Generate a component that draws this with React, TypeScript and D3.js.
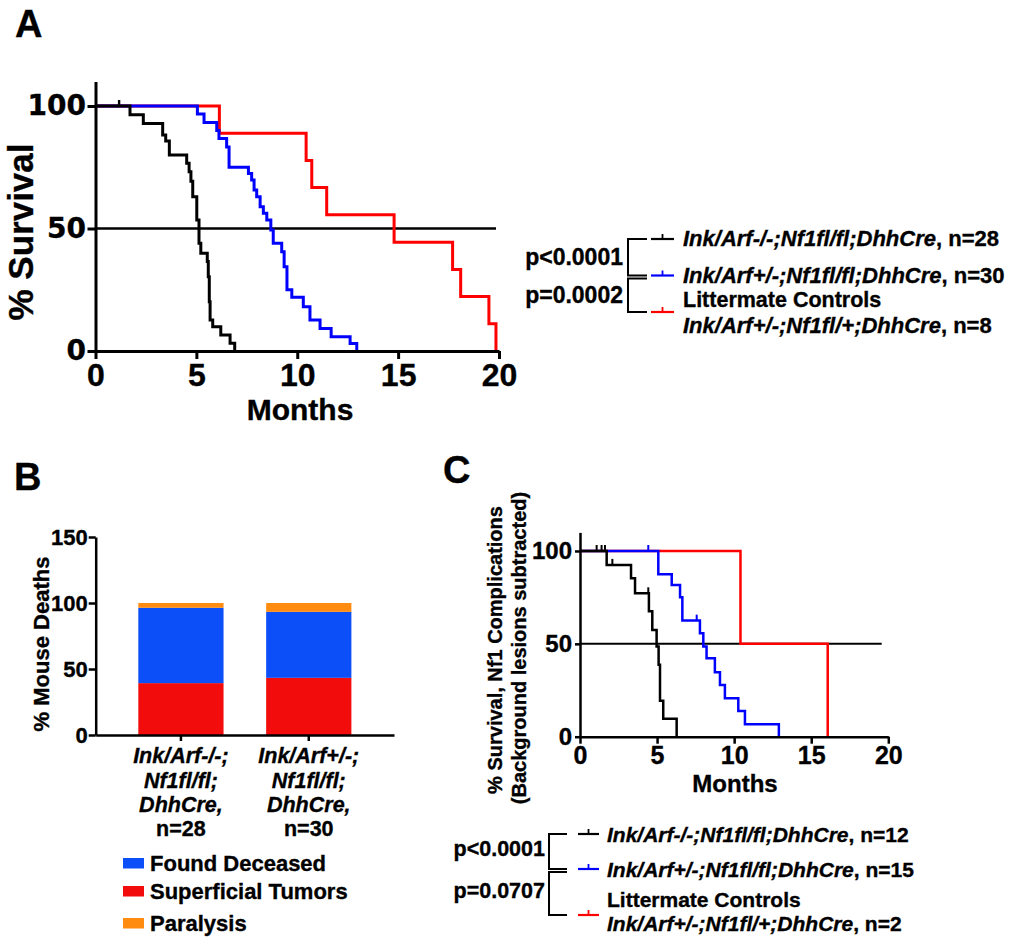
import React, { useEffect, useRef } from "react";
import * as d3 from "d3";

type Pt = [number, number];

const FONT = "'Liberation Sans', Arial, Helvetica, sans-serif";
const WIDE_FONT = "'DejaVu Sans', 'Liberation Sans', sans-serif";

// shared ticks
const monthTicks = [0, 5, 10, 15, 20];
const pctTicks = [0, 50, 100];
const deathTicks = [0, 50, 100, 150];

// ---- A: overall survival, step points [month, % survival] ----
const aInkNull: Pt[] = [[0, 100], [1.71, 96.4], [2.37, 92.9], [3.33, 88.2], [3.48, 85.7], [3.66, 80], [4.52, 76.6], [4.64, 73.2], [4.73, 69.3], [4.82, 63], [5.02, 53.5], [5.13, 44], [5.22, 39.9], [5.54, 36.5], [5.59, 30.3], [5.64, 20.1], [5.68, 12.7], [5.81, 9.9], [6.21, 6.5], [6.67, 3.2], [6.9, 0]];
const aInkHet: Pt[] = [[0, 100], [5.05, 96.7], [5.38, 93.3], [6.01, 90], [6.12, 86.7], [6.5, 83.3], [6.62, 75], [7.58, 72.5], [7.74, 69.8], [7.86, 65.7], [7.99, 63], [8.16, 58.9], [8.32, 56.2], [8.49, 53.5], [8.69, 49.4], [8.81, 44], [9.23, 40.5], [9.35, 34.4], [9.49, 25], [9.73, 21.9], [10.3, 18.1], [10.63, 12.7], [11.13, 9.2], [11.68, 5.8], [12.62, 3.1], [12.95, 0]];
const aControl: Pt[] = [[0, 100], [6.14, 88.9], [10.44, 77.8], [10.72, 66.7], [11.46, 55.6], [14.8, 44.4], [17.7, 33.3], [18.1, 22.2], [19.5, 11.1], [19.85, 0]];
const aInkNullCensor: Pt[] = [[1.17, 100]];

// ---- C: Nf1 complications survival ----
const cInkNull: Pt[] = [[0, 100], [1.73, 92.5], [3.31, 85.3], [3.57, 77.2], [4.47, 67.5], [4.69, 57.5], [4.97, 48.5], [5.1, 38.8], [5.19, 19.4], [5.4, 9.7], [6.27, 0]];
const cInkHet: Pt[] = [[0, 100], [5.08, 87.4], [5.95, 81.7], [6.49, 75.1], [6.64, 62.5], [7.78, 55.7], [8.0, 48.5], [8.21, 42.2], [8.75, 34.7], [9.08, 27.8], [9.4, 20.7], [10.27, 13.8], [10.7, 6.7], [12.9, 0]];
const cControl: Pt[] = [[0, 100], [10.41, 50], [16.07, 0]];
const cInkNullCensor: Pt[] = [[1.08, 100], [1.4, 100], [1.62, 100], [2.1, 92.5], [4.43, 77.2]];
const cInkHetCensor: Pt[] = [[4.43, 100], [7.57, 62.5]];

// ---- B: cause of death ----
const bGroups = ["Ink/Arf-/-;Nf1fl/fl;DhhCre, n=28", "Ink/Arf+/-;Nf1fl/fl;DhhCre, n=30"];
const bGroupLines = [["Ink/Arf-/-;", "Nf1fl/fl;", "DhhCre,"], ["Ink/Arf+/-;", "Nf1fl/fl;", "DhhCre,"]];
const bGroupN = ["n=28", "n=30"];
const bCauses = ["Superficial Tumors", "Found Deceased", "Paralysis"];
const bSuperficial = [39.3, 43.3];
const bFound = [57.1, 50.0];
const bParalysis = [3.6, 6.7];
const bLegendOrder = ["Found Deceased", "Superficial Tumors", "Paralysis"];

// ---- legends ----
const genotypes = ["Ink/Arf-/-;Nf1fl/fl;DhhCre", "Ink/Arf+/-;Nf1fl/fl;DhhCre", "Ink/Arf+/-;Nf1fl/+;DhhCre"];
const aN = [28, 30, 8];
const cN = [12, 15, 2];
const aPValues = ["p<0.0001", "p=0.0002"];
const cPValues = ["p<0.0001", "p=0.0707"];

const BLACK = "#000";
const BLUE = "#0000ff";
const RED = "#ff0000";
const causeColor: Record<string, string> = {
  "Superficial Tumors": "#f20c0c",
  "Found Deceased": "#0c4ef7",
  Paralysis: "#ff8c10",
};

function bold(sel: any, x: number, y: number, size: number, s: string, anchor = "start") {
  return sel.append("text")
    .attr("x", x).attr("y", y)
    .attr("font-family", FONT).attr("font-weight", "bold")
    .attr("font-size", size).attr("text-anchor", anchor)
    .attr("stroke", BLACK).attr("stroke-width", 0.35)
    .text(s);
}

function drawKM(svg: any, cfg: any) {
  const { x, y, series, lineW, axisW, refEnd, refW } = cfg;
  const g = svg.append("g");

  g.append("line")
    .attr("x1", x(0)).attr("x2", refEnd)
    .attr("y1", y(50)).attr("y2", y(50))
    .attr("stroke", BLACK).attr("stroke-width", refW);

  const line = d3.line<Pt>().x(d => x(d[0])).y(d => y(d[1])).curve(d3.curveStepAfter);
  series.forEach((s: any) => {
    g.append("path").attr("d", line(s.data)).attr("fill", "none")
      .attr("stroke", s.color).attr("stroke-width", lineW);
    (s.censor || []).forEach((c: Pt) => {
      g.append("line").attr("x1", x(c[0])).attr("x2", x(c[0]))
        .attr("y1", y(c[1])).attr("y2", y(c[1]) - 6)
        .attr("stroke", s.color).attr("stroke-width", lineW * 0.8);
    });
  });

  const xAxis = g.append("g").attr("transform", `translate(0,${y(0)})`)
    .call(d3.axisBottom(x).tickValues(monthTicks).tickSize(cfg.xTick).tickSizeOuter(0).tickPadding(cfg.xPad));
  xAxis.selectAll("text").attr("font-size", cfg.xFont).attr("font-weight", "bold").attr("font-family", FONT)
    .attr("fill", BLACK).attr("stroke", BLACK).attr("stroke-width", 0.35);

  const yAxis = g.append("g").attr("transform", `translate(${x(0)},0)`)
    .call(d3.axisLeft(y).tickValues(pctTicks).tickSize(cfg.yTick).tickSizeOuter(0).tickPadding(cfg.yPad));
  yAxis.selectAll("text").attr("font-size", cfg.yFont).attr("font-weight", "bold")
    .attr("font-family", cfg.yFamily || FONT).attr("fill", BLACK).attr("stroke", BLACK).attr("stroke-width", 0.35);
  [xAxis, yAxis].forEach(a => {
    a.select(".domain").attr("stroke-width", axisW);
    a.selectAll(".tick line").attr("stroke-width", axisW);
  });
}

function drawLegend(svg: any, cfg: any) {
  const g = svg.append("g");
  const colors = [BLACK, BLUE, RED];
  cfg.lineY.forEach((ly: number, i: number) => {
    g.append("line").attr("x1", cfg.sx0).attr("x2", cfg.sx1).attr("y1", ly).attr("y2", ly)
      .attr("stroke", colors[i]).attr("stroke-width", 2.2);
    const mid = (cfg.sx0 + cfg.sx1) / 2;
    g.append("line").attr("x1", mid).attr("x2", mid).attr("y1", ly).attr("y2", ly - 5)
      .attr("stroke", colors[i]).attr("stroke-width", 1.8);
    const base = i < 2 ? ly + cfg.rowOff : ly + cfg.lastOff;
    if (i === 2) bold(g, cfg.tx, ly + cfg.ctrlOff, cfg.ctrlSize, "Littermate Controls");
    // genotype (italic) + count (upright)
    const t = bold(g, cfg.tx, base, cfg.size, "");
    t.append("tspan").attr("font-style", "italic").text(genotypes[i]);
    t.append("tspan").text(`, n=${cfg.n[i]}`);
  });
  const brackets: [number, number][] = [[cfg.lineY[0], cfg.lineY[1]], [cfg.lineY[1] + 3, cfg.lineY[2]]];
  brackets.forEach(([y0, y1], i) => {
    g.append("path").attr("d", `M${cfg.bx1},${y0}H${cfg.bx0}V${y1}H${cfg.bx1}`)
      .attr("fill", "none").attr("stroke", BLACK).attr("stroke-width", 2);
    bold(g, cfg.px, (y0 + y1) / 2 + cfg.pOff, cfg.pSize, cfg.p[i], "end");
  });
}

export default function App() {
  const ref = useRef<SVGSVGElement>(null);

  useEffect(() => {
    const svg = d3.select(ref.current);
    svg.selectAll("*").remove();

    // ---------- Panel A ----------
    bold(svg, 15, 37, 38, "A");
    const xA = d3.scaleLinear().domain([0, 20]).range([95.5, 499]);
    const yA = d3.scaleLinear().domain([0, 110]).range([351, 81.5]);
    drawKM(svg, {
      x: xA, y: yA, lineW: 3, axisW: 3, refW: 2.3, refEnd: 496,
      xTick: 8, xPad: 4, xFont: 32, yTick: 8, yPad: 1.5, yFont: 28, yFamily: WIDE_FONT,
      series: [
        { data: aControl, color: RED },
        { data: aInkHet, color: BLUE },
        { data: aInkNull, color: BLACK, censor: aInkNullCensor },
      ],
    });
    bold(svg, 300, 420, 30, "Months", "middle");
    bold(svg, 0, 0, 35, "% Survival", "middle").attr("transform", "translate(33,232) rotate(-90)");
    drawLegend(svg, {
      lineY: [239, 275.5, 312], sx0: 651, sx1: 674, tx: 683, size: 22, ctrlSize: 21.5, pSize: 23,
      rowOff: 7, ctrlOff: -4.9, lastOff: 20.5, n: aN, p: aPValues,
      bx0: 628, bx1: 647, px: 623, pOff: 8,
    });

    // ---------- Panel B ----------
    bold(svg, 14, 490, 38, "B");
    const xB = d3.scaleBand().domain(bGroups).range([95.7, 394]).paddingInner(1 / 3).paddingOuter(1 / 3);
    const yB = d3.scaleLinear().domain([0, 150]).range([735, 537]);
    const rows = bGroups.map((grp, i) => ({
      group: grp,
      "Superficial Tumors": bSuperficial[i],
      "Found Deceased": bFound[i],
      Paralysis: bParalysis[i],
    }));
    const stacked = d3.stack<any>().keys(bCauses)(rows);
    const gB = svg.append("g");
    stacked.forEach(layer => {
      gB.selectAll(null).data(layer).join("rect")
        .attr("x", (d: any) => xB(d.data.group)!)
        .attr("width", xB.bandwidth())
        .attr("y", (d: any) => yB(d[1]))
        .attr("height", (d: any) => yB(d[0]) - yB(d[1]))
        .attr("fill", causeColor[layer.key]);
    });
    const bxAxis = gB.append("g").attr("transform", `translate(0,${yB(0)})`)
      .call(d3.axisBottom(xB).tickSize(6).tickSizeOuter(0).tickFormat(() => ""));
    const byAxis = gB.append("g").attr("transform", `translate(${95.7},0)`)
      .call(d3.axisLeft(yB).tickValues(deathTicks).tickSize(7).tickSizeOuter(0).tickPadding(1));
    byAxis.selectAll("text").attr("font-size", 22).attr("font-weight", "bold").attr("font-family", FONT)
      .attr("fill", BLACK).attr("stroke", BLACK).attr("stroke-width", 0.35);
    [bxAxis, byAxis].forEach(a => {
      a.select(".domain").attr("stroke-width", 2.5);
      a.selectAll(".tick line").attr("stroke-width", 2.5);
    });
    bold(svg, 0, 0, 22, "% Mouse Deaths", "middle").attr("transform", "translate(49,644) rotate(-90)");
    bGroups.forEach((grp, i) => {
      const cx = xB(grp)! + xB.bandwidth() / 2;
      bGroupLines[i].forEach((ln, j) => {
        bold(svg, cx, 763 + j * 24.5, 21.5, ln, "middle").attr("font-style", "italic");
      });
      bold(svg, cx, 836, 21.5, bGroupN[i], "middle");
    });
    const legY = [858, 886, 918];
    bLegendOrder.forEach((k, i) => {
      svg.append("rect").attr("x", 123).attr("y", legY[i]).attr("width", 21).attr("height", 10.5)
        .attr("fill", causeColor[k]);
      bold(svg, 150, legY[i] + 13, 22, k);
    });

    // ---------- Panel C ----------
    bold(svg, 443, 483, 38, "C");
    const xC = d3.scaleLinear().domain([0, 20]).range([580, 888.3]);
    const yC = d3.scaleLinear().domain([0, 110]).range([736.7, 532.4]);
    drawKM(svg, {
      x: xC, y: yC, lineW: 2.5, axisW: 2.5, refW: 2, refEnd: 881.7,
      xTick: 7, xPad: 3, xFont: 25, yTick: 5, yPad: 3, yFont: 24,
      series: [
        { data: cControl, color: RED },
        { data: cInkHet, color: BLUE, censor: cInkHetCensor },
        { data: cInkNull, color: BLACK, censor: cInkNullCensor },
      ],
    });
    bold(svg, 735, 792, 24, "Months", "middle");
    bold(svg, 0, 0, 20, "% Survival, Nf1 Complications", "middle").attr("transform", "translate(502,650) rotate(-90)");
    bold(svg, 0, 0, 20, "(Background lesions subtracted)", "middle").attr("transform", "translate(526,648) rotate(-90)");
    drawLegend(svg, {
      lineY: [834, 869, 915], sx0: 578, sx1: 599, tx: 607, size: 21, ctrlSize: 21, pSize: 21.5,
      rowOff: 7.5, ctrlOff: -8, lastOff: 16, n: cN, p: cPValues,
      bx0: 549, bx1: 567, px: 545, pOff: 4,
    });
  }, []);

  return (
    <svg ref={ref} width={1025} height={943}
      style={{ position: "absolute", left: 0, top: 0, background: "#fff" }} />
  );
}
